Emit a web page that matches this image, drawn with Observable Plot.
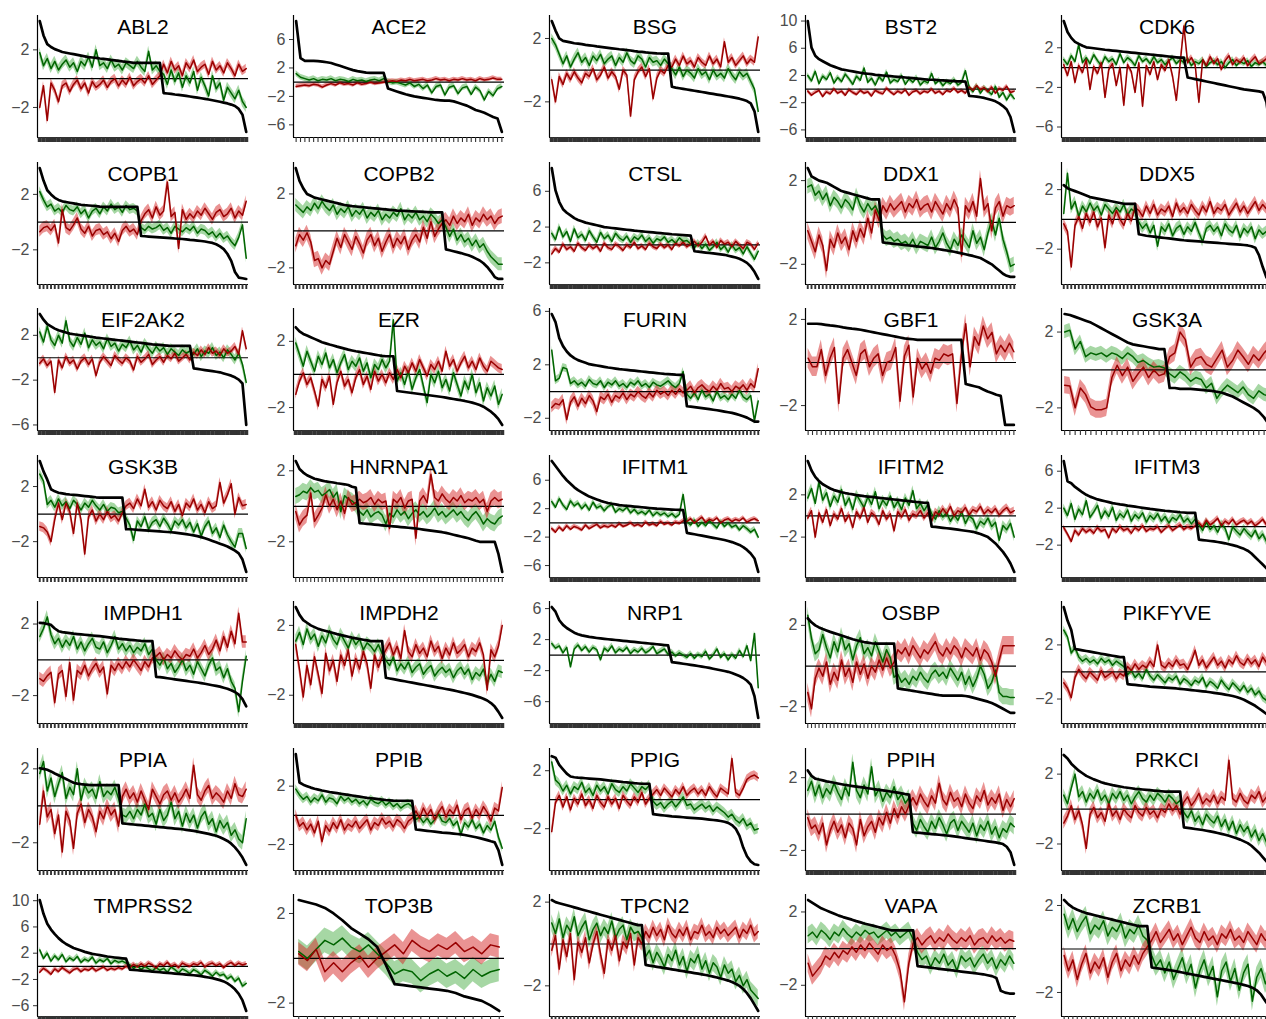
<!DOCTYPE html>
<html><head><meta charset="utf-8">
<script src="https://cdn.jsdelivr.net/npm/d3@7"></script>
<script src="https://cdn.jsdelivr.net/npm/@observablehq/plot@0.6"></script>
<style>
html,body{margin:0;padding:0;background:#fff;overflow:hidden;width:1266px;height:1019px;}
#grid{position:relative;width:1266px;height:1019px;overflow:hidden;}
.cell{position:absolute;width:256px;height:146px;}
.cell [aria-label="y-axis tick label"], .cell [aria-label="y-axis tick label"] text{font-size:16px !important;}
</style></head><body><div id="grid"></div>
<script>
const genes = ["ABL2","ACE2","BSG","BST2","CDK6","COPB1","COPB2","CTSL","DDX1","DDX5",
"EIF2AK2","EZR","FURIN","GBF1","GSK3A","GSK3B","HNRNPA1","IFITM1","IFITM2","IFITM3",
"IMPDH1","IMPDH2","NRP1","OSBP","PIKFYVE","PPIA","PPIB","PPIG","PPIH","PRKCI",
"TMPRSS2","TOP3B","TPCN2","VAPA","ZCRB1"];

const blackVals = [
[4.0,3.0,2.4,2.2,2.05,1.95,1.85,1.8,1.75,1.7,1.65,1.6,1.55,1.5,1.47,1.44,1.4,1.37,1.34,1.3,1.27,1.24,1.2,1.17,1.14,1.1,1.1,1.1,1.1,1.1,1.1,1.1,1.1,-1.0,-1.03,-1.06,-1.1,-1.13,-1.16,-1.2,-1.24,-1.28,-1.32,-1.36,-1.4,-1.45,-1.5,-1.55,-1.6,-1.66,-1.72,-1.8,-1.9,-2.1,-2.5,-3.7],
[8.6,3.4,3.0,3.0,3.0,2.95,2.9,2.8,2.7,2.5,2.3,2.1,1.9,1.7,1.55,1.45,1.35,1.3,1.3,1.3,1.3,-0.9,-1.1,-1.3,-1.5,-1.7,-1.85,-2.0,-2.1,-2.2,-2.3,-2.4,-2.5,-2.55,-2.6,-2.6,-2.7,-2.9,-3.1,-3.3,-3.6,-3.9,-4.1,-4.3,-4.6,-4.9,-5.1,-7.0],
[3.1,2.5,2.0,1.85,1.8,1.75,1.7,1.67,1.64,1.6,1.57,1.54,1.5,1.47,1.44,1.41,1.38,1.35,1.32,1.3,1.27,1.24,1.2,1.17,1.15,1.12,1.1,1.08,1.06,1.05,1.05,1.05,-1.05,-1.1,-1.14,-1.18,-1.22,-1.26,-1.3,-1.34,-1.38,-1.42,-1.46,-1.5,-1.54,-1.58,-1.62,-1.66,-1.7,-1.75,-1.8,-1.87,-1.95,-2.1,-2.6,-3.9],
[10.0,6.1,4.9,4.4,4.1,3.8,3.5,3.3,3.1,2.9,2.8,2.7,2.6,2.5,2.4,2.3,2.25,2.2,2.1,2.05,2.0,1.95,1.9,1.85,1.8,1.75,1.7,1.65,1.6,1.55,1.5,1.45,1.4,1.37,1.34,1.3,1.27,1.24,1.2,1.17,1.14,1.12,1.1,-1.0,-1.05,-1.1,-1.2,-1.3,-1.45,-1.6,-1.8,-2.1,-2.5,-3.0,-4.1,-6.3],
[4.7,3.6,3.0,2.6,2.4,2.2,2.05,2.0,1.95,1.9,1.85,1.8,1.76,1.72,1.68,1.64,1.6,1.56,1.52,1.48,1.44,1.4,1.36,1.32,1.28,1.24,1.2,1.16,1.12,1.08,1.04,1.0,1.0,-1.0,-1.08,-1.16,-1.24,-1.32,-1.4,-1.48,-1.56,-1.64,-1.72,-1.8,-1.88,-1.96,-2.04,-2.12,-2.2,-2.25,-2.3,-2.35,-2.4,-2.5,-3.5,-6.5],
[3.9,3.0,2.3,2.0,1.75,1.6,1.5,1.45,1.4,1.35,1.3,1.25,1.22,1.2,1.18,1.15,1.12,1.1,1.1,1.1,1.1,1.1,1.1,1.1,1.1,1.1,1.1,-1.0,-1.02,-1.04,-1.06,-1.08,-1.1,-1.12,-1.14,-1.16,-1.18,-1.2,-1.22,-1.25,-1.28,-1.3,-1.33,-1.36,-1.4,-1.45,-1.5,-1.6,-1.75,-1.95,-2.3,-2.8,-3.6,-4.0,-4.05,-4.1],
[3.4,2.7,2.3,2.0,1.9,1.8,1.75,1.7,1.65,1.6,1.55,1.5,1.45,1.4,1.37,1.34,1.32,1.3,1.28,1.26,1.24,1.22,1.2,1.18,1.16,1.14,1.12,1.1,1.09,1.08,1.07,1.06,1.05,1.04,1.03,1.02,1.0,1.0,1.0,1.0,-1.0,-1.05,-1.1,-1.15,-1.2,-1.26,-1.32,-1.4,-1.5,-1.6,-1.75,-1.95,-2.2,-2.5,-2.6,-2.6],
[8.6,6.1,4.8,4.0,3.6,3.3,3.0,2.8,2.65,2.5,2.4,2.3,2.2,2.1,2.0,1.95,1.9,1.85,1.8,1.75,1.7,1.65,1.6,1.56,1.52,1.48,1.44,1.4,1.36,1.32,1.28,1.24,1.2,1.17,1.14,1.11,1.08,1.05,-0.7,-0.75,-0.8,-0.85,-0.9,-0.95,-1.0,-1.05,-1.1,-1.2,-1.3,-1.4,-1.55,-1.75,-2.0,-2.4,-3.0,-3.8],
[2.6,2.2,2.1,2.0,1.95,1.9,1.8,1.7,1.6,1.5,1.45,1.4,1.35,1.3,1.25,1.2,1.15,1.1,1.1,1.1,-0.95,-0.98,-1.0,-1.02,-1.04,-1.06,-1.08,-1.1,-1.12,-1.14,-1.16,-1.18,-1.2,-1.22,-1.25,-1.28,-1.31,-1.34,-1.37,-1.4,-1.44,-1.48,-1.52,-1.56,-1.6,-1.65,-1.7,-1.8,-1.9,-2.0,-2.15,-2.3,-2.45,-2.55,-2.6,-2.6],
[2.3,2.1,2.0,1.9,1.8,1.7,1.6,1.5,1.45,1.4,1.35,1.3,1.25,1.2,1.15,1.1,1.05,1.05,1.05,1.05,-1.0,-1.05,-1.1,-1.13,-1.16,-1.19,-1.22,-1.25,-1.28,-1.31,-1.34,-1.37,-1.4,-1.42,-1.44,-1.46,-1.48,-1.5,-1.52,-1.54,-1.56,-1.58,-1.6,-1.62,-1.64,-1.66,-1.68,-1.7,-1.72,-1.75,-1.8,-1.9,-2.4,-3.2,-3.9,-4.0],
[3.9,3.4,3.0,2.8,2.6,2.45,2.35,2.25,2.15,2.1,2.05,2.0,1.95,1.9,1.85,1.8,1.76,1.72,1.68,1.64,1.6,1.56,1.52,1.48,1.44,1.4,1.36,1.32,1.28,1.24,1.2,1.17,1.14,1.11,1.08,1.05,1.05,1.05,1.05,1.05,1.05,-0.95,-1.0,-1.05,-1.1,-1.15,-1.2,-1.25,-1.3,-1.4,-1.5,-1.6,-1.75,-1.95,-2.3,-6.0],
[2.85,2.6,2.45,2.35,2.25,2.15,2.05,1.95,1.88,1.81,1.75,1.68,1.62,1.56,1.5,1.45,1.4,1.36,1.32,1.28,1.24,1.2,1.16,1.12,1.1,1.1,1.1,-1.0,-1.03,-1.06,-1.09,-1.12,-1.15,-1.18,-1.21,-1.24,-1.27,-1.3,-1.33,-1.36,-1.4,-1.44,-1.48,-1.52,-1.56,-1.6,-1.65,-1.7,-1.77,-1.85,-1.95,-2.1,-2.25,-2.45,-2.7,-3.05],
[5.8,5.2,4.0,3.4,3.0,2.7,2.5,2.35,2.25,2.15,2.05,2.0,1.95,1.9,1.85,1.8,1.76,1.72,1.68,1.65,1.62,1.59,1.56,1.53,1.5,1.47,1.44,1.41,1.38,1.35,1.32,1.3,1.28,1.26,1.25,1.25,-1.1,-1.13,-1.16,-1.2,-1.24,-1.28,-1.32,-1.36,-1.4,-1.45,-1.5,-1.55,-1.6,-1.67,-1.75,-1.85,-1.95,-2.1,-2.25,-2.25],
[1.8,1.8,1.8,1.78,1.75,1.72,1.7,1.67,1.63,1.6,1.57,1.55,1.52,1.48,1.44,1.4,1.36,1.32,1.28,1.24,1.2,1.16,1.12,1.1,1.08,1.05,1.05,1.05,1.05,1.05,1.05,1.05,1.05,1.05,1.05,1.05,-1.0,-1.05,-1.1,-1.15,-1.25,-1.35,-1.42,-1.5,-1.55,-2.9,-2.9,-2.9],
[2.95,2.9,2.8,2.7,2.6,2.5,2.35,2.2,2.05,1.9,1.75,1.6,1.45,1.35,1.3,1.25,1.2,1.15,1.1,1.1,-0.95,-0.95,-1.0,-1.0,-1.0,-1.02,-1.05,-1.08,-1.1,-1.15,-1.2,-1.3,-1.4,-1.55,-1.7,-1.85,-2.0,-2.2,-2.5,-2.9],
[3.85,3.1,2.5,1.8,1.65,1.55,1.5,1.45,1.42,1.4,1.37,1.34,1.31,1.28,1.25,1.22,1.2,1.2,1.2,1.2,1.2,1.2,1.2,-1.1,-1.1,-1.12,-1.14,-1.16,-1.18,-1.2,-1.22,-1.24,-1.26,-1.28,-1.3,-1.32,-1.35,-1.38,-1.42,-1.46,-1.5,-1.55,-1.6,-1.67,-1.75,-1.85,-1.95,-2.05,-2.15,-2.25,-2.35,-2.5,-2.65,-2.85,-3.3,-4.2],
[2.55,2.1,1.9,1.75,1.65,1.55,1.5,1.45,1.4,1.37,1.34,1.3,1.27,1.24,1.2,1.1,1.05,-0.95,-0.97,-0.99,-1.01,-1.03,-1.05,-1.07,-1.09,-1.11,-1.13,-1.15,-1.17,-1.19,-1.21,-1.23,-1.25,-1.28,-1.31,-1.34,-1.37,-1.4,-1.43,-1.46,-1.5,-1.55,-1.6,-1.65,-1.7,-1.75,-1.8,-1.87,-1.94,-2.0,-2.0,-2.0,-2.0,-2.0,-2.7,-3.7],
[8.7,8.0,7.3,6.6,6.0,5.5,5.0,4.6,4.3,4.0,3.7,3.5,3.3,3.1,2.95,2.8,2.7,2.6,2.5,2.45,2.4,2.35,2.3,2.25,2.2,2.15,2.1,2.05,2.0,1.97,1.94,1.91,1.88,1.85,1.82,1.8,-1.4,-1.5,-1.6,-1.7,-1.8,-1.9,-2.0,-2.1,-2.2,-2.3,-2.4,-2.55,-2.7,-2.9,-3.1,-3.4,-3.8,-4.3,-5.0,-6.9],
[5.2,4.3,3.7,3.3,3.0,2.8,2.6,2.45,2.35,2.25,2.17,2.1,2.04,1.98,1.93,1.88,1.84,1.8,1.76,1.72,1.68,1.64,1.6,1.56,1.52,1.48,1.44,1.4,1.36,1.32,1.28,1.25,1.25,-1.0,-1.04,-1.08,-1.12,-1.16,-1.2,-1.25,-1.3,-1.35,-1.4,-1.45,-1.5,-1.6,-1.7,-1.85,-2.0,-2.3,-2.6,-3.0,-3.4,-3.9,-4.5,-5.3],
[7.1,4.9,4.7,4.3,4.0,3.7,3.45,3.25,3.1,2.95,2.85,2.75,2.65,2.55,2.48,2.41,2.35,2.28,2.22,2.16,2.1,2.04,1.98,1.92,1.87,1.82,1.77,1.72,1.68,1.64,1.6,1.56,1.53,1.5,1.5,1.5,-1.4,-1.45,-1.5,-1.55,-1.6,-1.66,-1.72,-1.8,-1.9,-2.0,-2.1,-2.25,-2.4,-2.6,-2.9,-3.3,-3.7,-4.1,-4.5,-4.9],
[2.07,2.05,2.0,1.95,1.75,1.6,1.55,1.52,1.49,1.46,1.44,1.42,1.4,1.38,1.36,1.34,1.32,1.3,1.27,1.24,1.21,1.18,1.16,1.14,1.12,1.1,1.08,1.06,1.05,1.05,1.05,-0.95,-0.97,-1.0,-1.03,-1.06,-1.09,-1.12,-1.15,-1.18,-1.21,-1.24,-1.27,-1.3,-1.34,-1.38,-1.42,-1.46,-1.5,-1.56,-1.62,-1.7,-1.8,-1.95,-2.2,-2.6],
[3.05,2.6,2.3,2.15,2.0,1.9,1.8,1.74,1.68,1.62,1.56,1.5,1.45,1.4,1.35,1.3,1.26,1.22,1.18,1.14,1.1,1.1,1.1,1.1,-1.0,-1.04,-1.08,-1.12,-1.16,-1.2,-1.24,-1.28,-1.32,-1.36,-1.4,-1.44,-1.48,-1.52,-1.56,-1.6,-1.64,-1.68,-1.72,-1.77,-1.82,-1.87,-1.92,-1.98,-2.05,-2.12,-2.2,-2.3,-2.45,-2.65,-2.95,-3.3],
[6.2,5.6,4.5,3.9,3.5,3.2,2.9,2.7,2.55,2.45,2.35,2.28,2.21,2.15,2.1,2.05,2.0,1.95,1.9,1.85,1.8,1.75,1.7,1.65,1.6,1.55,1.5,1.45,1.4,1.35,1.3,1.25,-0.9,-0.97,-1.04,-1.11,-1.18,-1.25,-1.32,-1.4,-1.48,-1.56,-1.65,-1.75,-1.85,-1.95,-2.05,-2.15,-2.3,-2.5,-2.7,-2.95,-3.3,-3.8,-5.3,-8.1],
[2.35,2.15,2.0,1.9,1.82,1.75,1.68,1.62,1.56,1.5,1.44,1.38,1.32,1.27,1.22,1.18,1.15,1.12,1.1,1.1,1.1,1.1,1.1,1.1,-1.1,-1.13,-1.16,-1.19,-1.22,-1.25,-1.28,-1.31,-1.34,-1.37,-1.4,-1.43,-1.45,-1.45,-1.45,-1.45,-1.45,-1.45,-1.47,-1.5,-1.55,-1.6,-1.65,-1.7,-1.75,-1.82,-1.9,-2.0,-2.1,-2.2,-2.3,-2.3],
[4.8,3.8,3.1,1.7,1.65,1.6,1.55,1.5,1.45,1.4,1.35,1.3,1.25,1.2,1.15,1.1,1.1,-0.9,-0.93,-0.96,-0.99,-1.02,-1.05,-1.08,-1.1,-1.12,-1.14,-1.16,-1.18,-1.2,-1.22,-1.25,-1.28,-1.31,-1.34,-1.37,-1.4,-1.43,-1.46,-1.5,-1.54,-1.58,-1.62,-1.67,-1.72,-1.78,-1.85,-1.95,-2.05,-2.2,-2.35,-2.5,-2.7,-2.9,-3.1,-3.4],
[2.03,2.0,1.95,1.86,1.75,1.65,1.55,1.45,1.35,1.25,1.2,1.17,1.15,1.13,1.12,1.12,1.12,1.12,1.12,1.12,1.12,1.12,-0.95,-0.97,-0.99,-1.01,-1.03,-1.05,-1.07,-1.09,-1.11,-1.13,-1.15,-1.17,-1.19,-1.21,-1.23,-1.25,-1.27,-1.3,-1.33,-1.36,-1.4,-1.44,-1.48,-1.52,-1.57,-1.62,-1.7,-1.8,-1.9,-2.05,-2.25,-2.5,-2.8,-3.2],
[4.2,2.25,2.1,2.0,1.9,1.82,1.76,1.7,1.65,1.6,1.56,1.52,1.48,1.44,1.4,1.36,1.32,1.28,1.24,1.2,1.17,1.14,1.11,1.08,1.05,1.03,1.01,1.0,1.0,1.0,1.0,1.0,-0.97,-1.0,-1.03,-1.06,-1.09,-1.12,-1.15,-1.18,-1.2,-1.22,-1.25,-1.28,-1.31,-1.35,-1.4,-1.45,-1.5,-1.56,-1.63,-1.7,-1.78,-1.85,-2.4,-3.4],
[3.0,2.9,2.4,2.1,1.8,1.6,1.55,1.52,1.5,1.48,1.46,1.44,1.42,1.4,1.37,1.34,1.31,1.28,1.25,1.22,1.2,1.17,1.14,1.12,1.1,1.1,1.1,-1.0,-1.03,-1.06,-1.09,-1.12,-1.15,-1.17,-1.19,-1.21,-1.23,-1.25,-1.27,-1.29,-1.31,-1.34,-1.37,-1.4,-1.43,-1.47,-1.52,-1.6,-1.75,-2.0,-2.5,-3.3,-3.9,-4.25,-4.45,-4.5],
[2.4,2.1,1.95,1.9,1.85,1.8,1.76,1.72,1.68,1.64,1.6,1.57,1.54,1.51,1.48,1.45,1.42,1.39,1.36,1.33,1.3,1.27,1.24,1.21,1.18,1.14,1.1,1.07,-1.0,-1.02,-1.04,-1.06,-1.08,-1.1,-1.12,-1.14,-1.16,-1.18,-1.2,-1.23,-1.26,-1.29,-1.32,-1.35,-1.38,-1.41,-1.44,-1.47,-1.5,-1.53,-1.56,-1.6,-1.65,-1.8,-2.1,-2.8],
[3.1,2.9,2.6,2.4,2.2,2.05,1.9,1.8,1.7,1.62,1.54,1.47,1.42,1.37,1.33,1.29,1.25,1.22,1.19,1.16,1.14,1.12,1.1,1.08,1.06,1.04,1.02,1.0,1.0,1.0,1.0,1.0,-1.05,-1.08,-1.11,-1.14,-1.17,-1.2,-1.24,-1.28,-1.32,-1.37,-1.42,-1.47,-1.53,-1.6,-1.67,-1.75,-1.85,-1.95,-2.1,-2.3,-2.5,-2.75,-3.0,-3.2],
[10.1,8.0,6.5,5.6,4.9,4.3,3.8,3.4,3.1,2.8,2.6,2.4,2.2,2.05,1.9,1.8,1.7,1.6,1.5,1.42,1.35,1.28,1.22,1.16,-0.5,-0.55,-0.6,-0.65,-0.7,-0.75,-0.8,-0.85,-0.9,-0.95,-1.0,-1.05,-1.1,-1.15,-1.2,-1.25,-1.3,-1.36,-1.42,-1.5,-1.6,-1.7,-1.8,-1.95,-2.1,-2.3,-2.6,-3.0,-3.5,-4.2,-5.2,-6.8],
[2.6,2.5,2.4,2.25,2.0,1.7,1.35,1.1,0.85,0.5,-0.3,-1.15,-1.2,-1.25,-1.3,-1.35,-1.4,-1.45,-1.55,-1.7,-1.8,-1.9,-2.1,-2.35],
[2.1,2.0,1.95,1.9,1.85,1.8,1.75,1.7,1.65,1.6,1.55,1.5,1.45,1.4,1.35,1.3,1.25,1.2,1.15,1.1,1.05,1.0,0.95,0.9,0.9,-1.0,-1.03,-1.06,-1.09,-1.12,-1.15,-1.18,-1.21,-1.24,-1.27,-1.3,-1.33,-1.36,-1.39,-1.42,-1.45,-1.48,-1.52,-1.56,-1.6,-1.65,-1.7,-1.75,-1.82,-1.9,-2.0,-2.15,-2.35,-2.6,-2.9,-3.2],
[2.65,2.5,2.35,2.2,2.1,2.0,1.9,1.8,1.72,1.65,1.58,1.5,1.43,1.36,1.3,1.24,1.18,1.12,1.06,1.0,1.0,1.0,1.0,1.0,1.0,-0.95,-0.98,-1.01,-1.04,-1.07,-1.1,-1.13,-1.16,-1.19,-1.22,-1.25,-1.28,-1.31,-1.34,-1.37,-1.4,-1.45,-1.5,-1.6,-2.3,-2.4,-2.45,-2.45],
[2.25,2.05,1.9,1.8,1.72,1.65,1.6,1.55,1.5,1.45,1.4,1.35,1.3,1.25,1.2,1.15,1.1,1.05,1.05,1.05,-0.85,-0.88,-0.91,-0.94,-0.97,-1.0,-1.04,-1.08,-1.12,-1.16,-1.2,-1.24,-1.28,-1.32,-1.36,-1.4,-1.44,-1.48,-1.52,-1.56,-1.6,-1.65,-1.7,-1.78,-1.9,-2.1,-2.4,-2.7]
];

const greenVals = [
[1.8,0.9,1.4,0.7,1.2,0.6,1.0,1.3,0.8,1.1,0.5,1.2,0.9,1.5,0.8,2.0,0.9,1.1,0.7,1.3,0.8,1.0,0.6,1.1,0.9,0.7,1.2,0.8,0.5,1.9,0.6,0.9,0.5,0.3,-0.4,0.6,-0.2,0.4,-0.6,0.2,-0.3,0.5,-0.8,0.1,-0.5,-1.2,0.2,-0.7,-0.3,-1.5,-0.6,-1.0,-1.4,-0.8,-1.6,-2.0],
[1.2,0.7,0.5,0.3,0.5,0.2,0.4,0.3,0.5,0.2,0.4,0.3,0.1,0.4,0.2,0.3,0.1,0.3,0.4,0.2,0.5,0.1,-0.1,0.0,-0.2,-0.4,-0.1,-0.6,-0.3,-0.9,-0.4,-1.5,-0.6,-0.4,-1.8,-0.7,-0.5,-1.6,-0.8,-0.6,-1.7,-0.7,-1.2,-2.5,-1.3,-1.9,-0.9,-0.6],
[2.0,1.6,1.0,0.4,0.9,0.2,0.7,1.1,0.5,0.8,0.3,0.9,0.6,1.0,0.4,0.7,0.9,0.3,0.8,0.5,1.1,0.6,0.4,0.9,0.7,0.2,0.8,0.5,0.6,0.3,0.7,0.4,0.1,-0.3,0.2,-0.4,0.0,-0.2,-0.5,0.1,-0.3,-0.1,-0.6,0.0,-0.4,-0.2,-0.5,0.1,-0.3,-0.6,-0.1,-0.4,-0.2,-0.7,-1.2,-2.6],
[2.0,1.2,2.6,0.8,1.9,1.4,2.4,0.9,1.7,1.1,2.2,1.5,0.7,1.9,1.3,3.1,1.0,1.6,0.6,1.8,1.2,2.5,0.9,1.4,1.1,2.0,0.7,1.5,1.0,1.7,0.6,1.2,0.9,2.3,0.8,1.3,0.5,1.1,0.8,1.4,0.6,1.0,2.7,0.3,-0.4,0.5,-0.6,0.2,-0.3,-0.8,0.4,-1.2,-0.5,-1.6,-0.7,-1.4],
[0.8,0.3,1.2,0.6,2.3,0.5,1.0,0.4,1.3,0.7,0.2,1.1,0.6,0.9,0.3,1.4,0.5,1.0,0.7,0.2,1.2,0.6,0.9,0.4,1.1,0.5,0.8,0.3,0.7,1.0,0.4,0.8,0.5,0.9,0.2,0.6,0.4,0.8,0.1,0.5,0.7,0.3,0.6,0.0,0.5,0.8,0.2,0.6,0.4,0.7,0.1,0.5,0.3,0.6,0.2,0.4],
[2.2,1.6,1.1,1.3,0.8,1.0,0.7,1.2,0.9,0.8,1.1,0.6,0.9,0.3,0.8,1.0,0.6,1.1,0.8,1.3,0.9,1.1,0.7,1.2,0.9,1.0,0.8,-0.4,-0.6,-0.3,-0.5,-0.4,-0.2,-0.6,-0.4,-0.8,-0.3,-0.5,-0.7,-0.4,-0.6,-0.3,-0.8,-0.5,-0.6,-0.9,-0.7,-1.1,-0.8,-1.2,-1.0,-1.4,-1.7,-1.1,-0.2,-2.6],
[1.4,1.2,1.0,1.3,1.1,1.5,1.2,1.6,1.3,1.1,1.4,0.9,1.2,1.0,1.3,0.8,1.1,0.9,1.2,0.7,1.0,0.8,1.1,0.6,0.9,0.7,1.0,0.8,1.2,0.6,0.9,0.7,1.0,0.6,0.8,0.5,0.9,0.7,0.4,0.6,0.2,-0.3,0.1,-0.5,-0.2,-0.6,-0.4,-0.8,-0.5,-0.9,-0.7,-1.1,-1.4,-1.6,-1.8,-1.8],
[1.3,0.6,2.0,0.9,1.5,0.4,1.8,0.8,1.2,0.5,1.6,0.9,0.3,1.4,0.7,1.1,0.4,1.3,0.8,0.5,1.0,0.3,0.9,0.6,1.1,0.4,0.8,0.2,0.7,0.5,0.9,0.3,0.6,0.2,0.8,0.4,0.5,0.1,-0.3,0.2,-0.4,0.1,-0.6,-0.2,0.3,-0.5,-0.1,-0.8,0.0,-0.6,-0.3,-1.0,-0.2,-0.9,-1.6,-0.7],
[1.7,1.8,1.3,1.5,1.1,1.4,0.8,1.2,1.0,0.7,1.1,0.9,0.6,1.3,0.8,0.5,0.9,0.6,0.8,0.4,-0.6,-0.8,-0.7,-0.9,-0.8,-1.0,-0.9,-1.1,-0.8,-1.2,-0.9,-1.0,-1.1,-0.7,-1.2,-0.9,-0.5,-1.0,-1.3,-0.8,-1.1,-0.6,-0.9,-1.2,-0.4,-1.0,-0.7,-1.3,-0.5,0.1,-0.6,0.2,-0.8,-1.4,-2.1,-2.0],
[0.4,3.1,0.7,1.2,0.2,0.9,0.5,1.1,0.6,0.9,0.3,1.0,0.7,0.4,0.8,0.5,1.0,0.3,0.7,0.5,-0.2,-0.6,-0.3,-0.9,-0.4,-1.8,-0.5,-0.8,-0.3,-1.1,-0.6,-0.4,-1.0,-0.5,-0.8,-0.2,-0.9,-1.5,-0.6,-0.4,-0.8,-0.5,-1.1,-0.3,-0.7,-0.9,-0.4,-1.2,-0.6,-0.9,-0.5,-1.3,-0.7,-1.0,-0.8,-0.9],
[2.3,1.4,2.8,1.6,1.1,2.0,1.3,3.3,1.5,1.0,1.8,1.2,2.2,0.9,1.6,1.1,1.4,0.8,1.7,1.0,1.3,0.6,1.2,0.9,1.5,0.7,1.1,0.5,1.3,0.8,0.4,1.0,0.6,0.9,0.3,0.8,0.5,0.2,0.7,0.4,0.6,0.3,0.8,0.1,0.6,0.4,0.9,0.2,0.5,0.0,0.7,0.3,-0.2,0.4,-0.6,-2.2],
[1.9,1.2,0.5,1.4,0.8,0.2,1.1,0.6,1.3,0.4,0.9,0.1,0.7,1.2,0.3,0.8,0.5,1.0,0.2,0.7,-0.2,0.6,0.3,0.9,0.4,0.8,3.3,-0.4,0.1,-0.6,0.2,-0.9,-0.2,0.3,-0.7,-1.7,0.0,-0.5,0.2,-0.8,-0.3,-1.0,0.1,-0.6,-1.3,-0.4,-0.9,0.0,-1.1,-0.5,-1.6,-0.8,-1.3,-0.7,-1.8,-1.2],
[3.1,0.8,1.0,1.8,1.7,0.6,0.8,0.5,0.7,0.4,0.9,0.6,0.5,0.8,0.3,0.7,0.5,0.8,0.4,0.6,0.3,0.7,0.5,0.8,0.4,0.6,0.3,0.7,0.5,0.4,0.6,0.8,0.5,0.3,0.6,1.5,-0.2,-0.5,-0.1,-0.6,0.1,-0.4,-0.2,-0.7,0.0,-0.5,-0.3,-0.6,-0.2,-0.5,0.1,-0.4,-0.6,-0.3,-2.2,-0.7],
null,
[2.0,2.1,1.1,1.5,0.7,0.9,0.8,0.9,0.7,0.9,0.8,0.6,0.9,0.7,0.4,0.5,0.3,0.15,0.2,0.1,-0.2,-0.4,-0.1,-0.3,-0.6,-0.4,-0.5,-0.95,-0.7,-1.5,-1.1,-0.8,-1.0,-1.2,-0.9,-1.3,-1.5,-1.1,-1.3,-1.4],
[2.9,2.4,0.7,1.0,0.5,1.1,0.6,0.9,0.4,1.0,0.7,0.3,0.8,0.5,1.0,0.6,0.3,0.7,0.2,0.5,0.4,0.1,0.2,-0.3,-0.8,-1.9,-0.5,-0.9,-0.2,-1.1,-0.6,-0.4,-0.9,-0.3,-0.7,-1.2,-0.5,-0.8,-0.4,-1.0,-0.6,-1.3,-0.7,-1.6,-0.9,-0.5,-1.4,-1.0,-1.7,-0.8,-1.5,-2.0,-2.4,-1.4,-1.4,-2.5],
[0.55,0.65,0.85,0.75,1.05,0.8,0.9,0.6,0.75,0.95,0.5,0.8,-0.3,0.6,0.4,0.3,0.1,-0.3,-0.5,-0.2,-0.6,-0.4,-0.3,-0.5,-1.0,-0.4,-0.6,-0.2,-0.5,-0.3,-0.7,-0.4,-0.2,-0.5,-0.3,-0.6,-0.4,-0.1,-0.5,-0.3,-0.6,-0.4,-0.2,-0.5,-0.3,-0.6,-0.8,-0.5,-0.3,-0.6,-1.0,-0.7,-0.9,-1.0,-0.7,-0.55],
[3.0,2.2,3.4,2.5,1.9,3.1,2.4,2.8,2.0,2.6,1.8,2.9,2.1,2.4,1.7,2.3,2.6,1.5,2.0,1.7,2.2,1.4,1.9,1.3,1.6,1.2,1.8,1.0,1.5,1.1,1.4,0.9,1.3,0.8,1.2,4.0,0.2,-0.3,0.4,-0.5,0.1,-0.4,0.3,-0.2,-0.7,0.2,-0.5,0.0,-0.6,-0.3,-1.0,-0.4,-0.8,-1.3,-0.9,-2.0],
[1.7,2.6,1.2,3.2,1.5,2.2,0.9,1.9,1.3,2.5,1.0,1.7,0.6,2.0,1.4,0.8,1.8,1.1,2.3,0.7,1.5,1.0,1.9,0.8,1.4,0.6,1.7,1.0,2.4,0.7,1.2,0.5,1.1,0.2,-0.3,0.5,-0.1,0.3,-0.5,0.1,-0.4,0.4,-0.7,0.0,-0.3,-1.2,-0.5,-0.8,-0.2,-1.0,-0.6,-2.3,-0.9,-1.3,-0.7,-2.0],
[2.0,1.2,2.5,0.8,1.9,1.3,2.8,1.0,1.6,2.3,0.9,1.7,1.1,2.1,0.7,1.4,1.0,1.8,0.6,1.3,0.9,1.5,0.5,1.2,0.8,1.4,0.6,1.1,0.4,1.0,0.7,1.3,0.5,0.9,0.3,0.8,0.2,-0.4,0.5,-0.3,0.1,-0.6,0.3,-0.2,-1.4,0.0,-0.5,-0.9,-0.2,-0.7,-1.1,-0.4,-1.3,-0.8,-1.6,-1.2],
[1.3,1.75,2.4,1.4,0.9,1.2,0.7,1.1,0.8,1.3,0.6,1.0,0.5,0.9,1.2,0.7,0.6,1.0,0.4,0.8,1.3,0.6,0.9,0.5,0.8,0.4,0.7,0.5,0.9,0.3,0.6,0.0,-0.3,0.1,-0.5,-0.2,-0.7,-0.4,0.0,-0.6,-0.3,-0.8,-0.1,-0.5,-0.9,-0.3,0.1,-0.6,-0.4,-1.0,-0.5,-1.2,-1.6,-2.9,-1.2,0.2],
[1.1,1.6,0.9,1.8,1.2,1.5,0.8,1.4,1.0,1.7,1.2,0.9,1.5,1.1,0.7,1.3,0.9,1.2,0.6,1.0,0.8,0.5,0.9,0.4,0.0,-0.3,0.2,-0.6,-0.2,-0.5,-0.1,-0.7,-0.4,-0.2,-0.8,-0.5,-0.3,-0.9,-0.6,-0.4,-0.7,-0.5,-1.0,-0.6,-0.4,-0.8,-0.5,-1.1,-0.7,-0.9,-0.5,-1.3,-0.8,-1.2,-0.6,-0.7],
[1.5,0.9,1.2,0.3,1.0,-1.5,0.8,1.3,0.6,1.1,0.4,1.0,0.7,-0.6,0.9,0.5,1.2,0.3,0.8,0.5,1.0,0.2,0.7,0.4,0.9,0.3,0.6,1.1,0.2,0.5,0.8,0.1,0.4,-0.1,0.3,0.0,-0.3,0.2,-0.4,0.1,-0.2,0.5,-0.5,0.0,0.8,-0.3,0.2,-0.6,0.1,-0.4,0.6,-0.2,1.2,-0.7,2.8,-4.2],
[2.5,1.35,0.6,0.8,1.55,0.9,0.4,1.2,0.7,1.5,0.8,1.1,0.3,1.0,1.4,0.6,0.9,0.5,1.2,0.7,0.2,0.8,0.4,-0.55,-0.4,-0.8,-0.6,-0.9,-0.5,-0.7,-0.3,-0.6,-0.8,-0.4,-0.2,-0.5,-0.3,-0.6,-0.1,-0.4,-0.7,-0.3,-0.9,-0.5,-1.0,-0.6,0.0,-0.4,-1.1,-0.8,-0.2,-1.3,-1.5,-1.5,-1.55,-1.55],
[3.1,2.6,1.4,1.8,1.1,0.8,1.0,0.7,0.9,0.6,1.0,0.7,0.9,0.5,0.8,0.6,0.4,-0.2,0.1,-0.4,-0.1,-0.5,0.2,-0.3,-0.6,-0.2,-0.5,-0.8,-0.4,-0.6,-0.3,-0.9,-0.5,-0.7,-1.0,-0.6,-0.8,-0.4,-1.1,-0.7,-0.9,-1.2,-0.6,-1.0,-1.3,-0.8,-1.1,-1.4,-1.0,-1.5,-1.2,-1.7,-1.4,-1.9,-2.1,-2.3],
[1.75,2.4,0.8,1.5,0.5,1.2,1.8,0.4,1.0,0.6,2.0,0.3,1.1,0.7,0.9,0.4,1.3,0.5,0.8,0.6,1.0,0.4,-0.5,-0.6,-0.3,-0.7,-0.2,-0.5,0.1,-0.6,-0.4,-1.0,-0.2,-0.8,-0.5,0.2,-0.7,-0.3,-1.1,-0.4,-0.9,-0.5,-1.2,-0.6,-0.3,-1.0,-0.7,-1.4,-0.8,-1.2,-0.9,-1.6,-1.3,-1.8,-2.0,-0.7],
[1.8,1.4,1.1,1.3,0.9,1.2,1.0,1.4,0.9,1.2,1.1,0.8,1.3,1.0,1.2,0.9,1.1,0.8,1.0,0.7,1.1,0.9,0.8,1.0,0.7,0.9,0.6,0.8,0.5,0.7,0.8,0.6,-0.3,-0.1,-0.5,-0.2,-0.6,-0.3,0.1,-0.4,-0.5,-0.2,-0.7,-0.4,-1.3,-0.5,-0.8,-0.3,-0.9,-0.6,-1.2,-0.7,-1.0,-0.4,-1.5,-2.25],
[2.6,1.35,1.1,0.6,1.0,0.4,0.9,0.7,1.2,0.5,0.8,0.3,1.0,0.6,0.9,0.4,1.1,0.7,0.5,0.9,0.6,1.1,0.8,0.5,0.9,0.7,1.0,-0.1,-0.4,-0.2,-0.6,-0.3,-0.1,-0.5,-0.2,0.2,-0.4,-0.3,-0.7,-0.5,-0.3,-0.6,-0.4,-0.8,-0.5,-0.7,-0.9,-1.2,-1.0,-1.4,-1.6,-1.3,-1.8,-1.6,-2.1,-2.0],
[1.3,1.8,1.0,1.6,0.9,1.4,1.1,1.7,1.2,0.8,1.5,1.0,2.85,1.3,0.9,1.6,1.1,2.6,1.0,1.4,0.7,1.2,0.9,1.5,0.8,1.1,0.6,0.9,-0.5,-0.9,-0.3,-0.7,-1.0,-0.4,-0.8,-0.2,-0.6,-1.1,-0.5,-0.3,-0.9,-0.4,-0.7,-1.0,-0.5,-1.2,-0.6,-0.9,-0.4,-1.1,-0.7,-1.3,-0.8,-1.0,-0.5,-0.7],
[0.8,0.3,1.2,2.0,0.7,1.0,0.4,0.9,0.6,1.1,0.5,0.8,0.3,0.9,0.6,1.0,0.5,0.8,0.3,0.7,1.0,0.6,0.4,0.8,0.5,0.9,0.7,0.4,0.8,0.6,0.3,0.5,-0.2,-0.5,-0.1,-0.7,-0.4,-0.9,-0.3,-0.6,-0.8,-0.4,-1.0,-0.6,-1.2,-0.7,-1.4,-0.9,-1.3,-1.0,-1.6,-1.2,-1.8,-1.4,-1.9,-1.6],
[2.5,1.2,2.0,0.8,1.6,1.0,1.8,0.7,1.3,0.9,1.5,0.6,1.1,0.8,1.4,0.5,1.0,0.7,1.2,0.4,0.9,0.6,0.8,0.5,0.2,-0.3,0.1,-0.5,0.0,-0.4,-0.7,-0.2,-0.6,-0.3,-0.9,-0.1,-0.5,-1.0,-0.4,-0.7,-1.1,-0.5,-0.8,-1.3,-0.6,-1.0,-1.5,-0.9,-1.4,-1.2,-1.9,-1.5,-2.3,-1.8,-3.0,-2.6],
[0.3,0.0,0.4,0.8,0.6,0.9,0.5,0.3,0.6,0.2,-0.2,-0.7,-0.5,-0.6,-1.0,-0.7,-0.5,-0.8,-0.6,-0.9,-0.5,-0.8,-0.6,-0.5],
[1.0,0.5,1.2,0.3,0.9,0.6,1.3,0.4,0.8,1.1,0.2,0.7,1.0,0.4,0.8,0.5,1.1,0.3,0.7,0.9,0.2,0.8,0.5,0.6,0.3,-0.6,-0.3,-0.9,-0.4,-0.7,-1.1,-0.5,-0.8,-0.3,-1.0,-0.6,-1.3,-0.7,-0.9,-0.5,-1.2,-0.8,-1.4,-0.9,-1.1,-1.6,-1.0,-1.4,-1.2,-1.8,-1.5,-2.0,-1.7,-2.2,-2.4,-2.6],
[0.7,0.9,0.6,1.0,0.8,0.5,0.9,0.7,1.1,0.8,0.6,0.9,0.7,1.0,0.8,0.9,0.6,0.8,1.0,0.7,0.9,0.6,0.8,1.0,0.5,-0.2,-0.6,-0.4,-1.0,-0.5,-0.8,-0.3,-0.9,-0.6,-1.2,-0.4,-0.7,-0.5,-1.0,-0.6,-0.3,-0.8,-0.5,-1.1,-0.6,-0.9,-0.4,-0.8],
[1.6,0.9,1.4,0.8,1.2,1.5,0.7,1.1,0.9,1.3,0.6,1.0,0.8,1.2,0.5,0.9,0.7,1.1,0.6,0.4,-0.3,-0.8,-0.5,-1.1,-0.6,-1.4,-0.9,-0.4,-1.2,-0.7,-1.8,-1.0,-0.5,-1.3,-0.8,-2.2,-1.0,-0.6,-1.5,-0.9,-1.9,-1.1,-0.7,-2.4,-1.3,-0.9,-1.6,-1.2]
];

const redVals = [
[-2.0,-0.5,-2.9,-0.3,-0.8,-1.6,-0.5,-0.3,-0.9,-0.4,-0.1,-0.7,-0.3,-1.0,-0.2,-0.6,-0.4,-0.1,-0.6,-0.2,0.0,-0.5,-0.1,-0.4,0.1,-0.5,-0.2,0.0,-0.3,0.2,-0.4,-0.1,0.2,1.0,0.4,1.2,0.6,0.9,0.2,1.1,0.7,1.3,0.5,0.8,1.0,0.3,1.2,0.6,0.9,0.4,1.1,0.7,0.2,1.0,0.5,0.7],
[-0.6,-0.5,-0.4,-0.5,-0.3,-0.4,-0.7,-0.4,-0.2,-0.4,-0.1,-0.3,-0.2,-0.4,-0.1,-0.3,-0.2,0.0,-0.2,-0.1,0.0,0.1,0.2,0.1,0.3,0.2,0.4,0.2,0.3,0.4,0.2,0.3,0.5,0.3,0.4,0.2,0.4,0.3,0.5,0.3,0.4,0.2,0.5,0.3,0.4,0.6,0.4,0.4],
[-0.6,-2.0,-0.4,-0.9,-0.2,-0.6,-0.1,-0.5,-0.8,-0.2,-0.4,0.1,-0.6,-0.3,0.2,-0.5,-0.1,-0.4,-1.2,0.0,-0.3,-2.9,-0.6,-0.1,0.2,-0.4,0.1,-1.8,-0.5,0.0,-0.2,0.3,0.2,0.7,0.3,0.9,0.4,0.6,0.2,0.8,0.5,0.3,0.9,0.4,0.7,0.2,1.8,0.5,0.8,0.3,0.6,0.9,0.4,0.7,0.5,2.1],
[-0.3,-0.9,-0.5,-0.2,-1.1,-0.4,-0.7,0.0,-0.6,-0.3,-0.9,-0.1,-0.5,-0.8,-0.2,-0.6,-0.4,-1.0,-0.2,-0.5,-0.7,0.1,-0.4,-0.8,-0.3,-0.6,-0.1,-0.9,-0.4,-0.2,-0.7,-0.3,-0.5,0.0,-0.6,-0.3,-0.8,-0.2,-0.4,0.1,-0.5,-0.2,-0.6,0.3,-0.2,0.5,-0.1,0.2,-0.4,0.3,-0.6,0.1,-0.2,0.4,-0.5,-0.3],
[0.3,-0.8,0.6,-1.5,0.2,-0.5,0.8,-2.2,0.1,-0.6,0.5,-3.0,-0.2,0.4,-1.8,0.0,-3.8,0.3,-0.4,-2.5,0.5,-3.9,0.2,-0.7,0.6,-1.2,0.3,-0.3,0.8,-0.9,-3.3,0.4,4.2,0.5,1.0,0.3,-3.5,0.8,0.2,1.1,0.4,0.9,-0.2,0.7,1.2,0.3,0.8,0.5,1.0,0.2,0.7,1.1,0.4,0.6,0.9,0.3],
[-0.7,-0.4,-0.3,-0.6,-0.2,-1.5,0.9,-0.4,-0.6,-0.2,0.3,-0.5,-0.8,-0.3,-1.0,-0.6,-0.5,-0.9,-0.7,-1.2,-0.8,-1.4,-0.6,-0.3,-0.7,-0.5,-0.9,0.1,0.6,0.9,0.3,1.1,0.5,0.8,2.9,0.4,0.7,-1.9,0.9,0.2,0.6,0.3,0.8,0.5,1.0,0.6,0.2,0.7,0.9,0.4,0.6,1.0,0.3,0.8,0.5,1.5],
[-0.8,-0.2,-0.5,-0.1,-0.6,-1.6,-1.5,-2.0,-1.6,-1.8,-1.1,-0.4,-0.9,-0.2,-0.6,-1.0,-0.3,-0.7,-1.2,-0.5,-0.2,-0.8,-0.4,-1.1,-0.6,-0.2,-0.9,-0.4,-0.7,-0.3,-1.0,-0.5,-0.2,-0.6,0.2,-0.4,0.5,-0.3,0.1,0.4,0.6,0.3,0.8,0.4,0.7,0.5,0.9,0.3,0.7,0.5,0.9,0.6,0.8,0.4,0.7,0.8],
[-1.0,-0.4,-0.8,0.1,-0.5,-0.2,-0.7,0.2,-0.3,-0.6,0.0,-0.4,-0.1,-0.7,0.2,-0.3,-0.5,0.1,-0.2,-0.6,0.0,-0.3,0.3,-0.4,-0.1,-0.5,0.2,-0.2,-0.4,0.1,-0.3,0.0,-0.5,0.2,-0.1,0.3,-0.2,0.1,0.4,-0.1,0.3,1.0,0.0,0.4,-0.3,0.5,0.1,0.3,-0.2,0.4,0.0,-0.4,0.3,0.1,-0.5,0.2],
[-0.4,-0.9,-1.4,-0.6,-1.1,-2.3,-0.8,-1.2,-0.5,-1.0,-0.7,-1.3,-0.4,-0.9,-0.3,-0.7,0.2,-0.5,0.6,0.1,0.8,0.5,0.9,0.6,0.8,1.0,0.5,0.9,0.7,1.1,0.6,0.8,0.9,0.5,1.0,0.7,0.4,0.9,0.6,1.1,0.7,-1.6,0.8,0.5,1.0,0.3,2.1,0.6,0.9,-0.4,0.7,1.0,0.3,0.8,0.7,0.8],
[-0.3,-0.8,-3.2,-0.4,0.2,-0.6,0.4,-0.2,0.5,-0.5,0.1,-1.9,0.3,-0.3,0.6,0.0,-0.4,0.4,-0.1,0.8,0.6,0.2,0.9,0.4,1.0,0.3,0.7,0.5,0.9,0.2,1.1,0.5,0.8,0.4,1.0,0.6,0.3,0.9,0.5,1.2,0.4,0.8,0.6,1.0,0.3,0.7,1.1,0.5,0.9,0.4,0.8,1.2,0.6,1.0,0.7,0.9],
[-0.5,-0.1,-0.7,-0.3,-3.1,-0.2,-0.9,0.1,-0.5,-0.2,-1.0,-0.3,0.0,-0.6,-0.1,-1.6,-0.4,0.1,-0.3,-0.7,0.2,-0.2,-0.5,0.0,-0.3,-1.1,0.1,-0.4,-0.1,0.3,-0.6,-0.2,0.1,-0.4,0.2,-0.1,0.4,-0.3,0.0,0.3,-0.2,0.5,0.2,0.7,0.3,0.9,0.4,0.6,0.2,0.8,0.4,0.6,1.0,0.3,2.4,0.8],
[-1.2,-0.4,0.1,-0.6,-0.2,-1.0,-1.9,-0.3,-0.8,-0.1,-1.8,-0.5,0.2,-0.7,-0.3,-1.1,-0.2,0.3,-0.6,-0.1,-0.9,0.2,-0.4,0.0,-0.5,0.1,-0.3,0.3,-0.2,0.5,0.1,0.7,0.2,0.9,0.4,-0.1,0.6,0.3,0.8,0.2,1.4,0.5,0.9,0.2,0.7,1.1,0.4,0.8,0.3,1.0,0.5,0.2,0.8,0.6,0.4,0.3],
[-1.2,-0.9,-1.0,-0.6,-2.1,-0.8,-0.4,-1.1,-0.5,-0.9,-0.3,-0.7,-1.5,-0.4,-0.6,-0.2,-0.8,-0.3,-0.5,-0.1,-0.6,-0.2,-0.4,0.0,-0.3,-0.5,-0.1,-0.4,0.1,-0.2,0.0,-0.3,0.1,-0.2,0.2,-0.1,0.1,0.4,-0.1,0.3,0.5,0.2,0.0,0.4,0.1,0.6,0.2,0.3,0.0,0.4,0.2,0.5,0.1,0.6,0.3,1.7],
[0.2,-0.2,-0.2,0.6,-0.6,0.2,0.7,-1.9,0.2,0.6,0.0,-0.6,0.4,0.6,-0.2,0.2,0.4,-0.6,0.0,0.1,0.7,-1.8,0.3,0.8,-1.6,0.2,-0.3,0.0,-0.5,0.2,0.1,0.4,0.3,0.4,-1.9,0.3,1.8,-0.2,1.2,0.8,1.7,1.1,1.4,0.4,0.8,0.5,0.9,0.5],
[-0.8,-0.85,-2.0,-0.95,-1.3,-1.95,-2.1,-2.1,-2.0,-0.4,0.25,-0.3,0.15,-0.6,-0.2,0.15,-0.4,0.0,-0.3,-0.2,0.7,0.9,2.0,1.6,0.15,0.6,0.7,0.3,0.15,0.6,1.05,0.15,0.5,1.05,0.7,0.3,0.8,0.5,0.9,1.2],
[-0.9,-1.0,-1.3,-2.0,-0.4,0.8,-0.4,0.8,0.2,-1.4,0.8,-0.4,-2.9,-0.2,0.3,-0.5,0.0,-0.4,0.2,-0.3,-0.1,-0.5,0.1,0.6,0.8,0.4,1.1,0.6,1.8,0.5,0.9,0.3,1.0,0.6,0.4,0.9,0.2,0.7,-0.1,0.8,0.5,1.1,0.3,0.7,0.1,0.9,0.4,0.6,2.3,0.8,1.4,2.2,0.0,1.2,0.6,0.7],
[-0.3,-1.05,-0.7,-0.5,0.75,-0.85,-0.5,-0.1,0.65,0.0,0.4,-0.2,0.3,-0.4,0.5,0.1,0.2,0.4,0.2,0.3,0.5,0.1,0.4,0.2,0.3,-1.25,0.4,0.2,0.5,-0.1,0.3,0.4,-1.8,0.3,0.6,0.2,1.8,0.5,0.3,0.7,0.4,0.2,0.5,0.3,0.6,0.2,0.4,0.3,0.5,0.2,0.4,-0.3,0.3,0.5,0.3,0.4],
[-0.8,-1.3,-0.6,-1.1,-0.4,-0.9,-0.5,-0.7,-1.0,-0.3,-0.8,-0.5,-0.2,-0.7,-0.4,-0.6,-0.3,-0.6,-0.1,-0.5,-0.3,0.0,-0.4,-0.2,-0.5,0.1,-0.3,-0.1,-0.4,0.2,-0.2,0.0,-0.3,0.1,-0.1,0.3,0.2,0.6,0.0,0.4,0.8,0.1,0.5,0.3,0.7,0.0,0.4,0.6,0.2,0.5,0.3,0.7,0.1,0.4,0.6,0.3],
[-0.2,0.5,-2.0,0.3,-0.6,0.6,-0.9,0.2,-0.3,0.7,-0.5,0.1,-1.1,0.4,-0.2,0.8,-0.6,0.3,0.0,-0.8,0.5,-0.3,0.2,-1.4,0.4,-0.1,0.6,-0.4,0.2,0.0,0.5,-0.2,0.3,-0.5,0.4,0.1,0.7,0.2,0.9,0.0,0.5,0.3,0.8,0.1,0.6,0.4,0.9,0.2,0.6,0.3,0.7,0.1,0.5,0.8,0.3,0.5],
[-0.1,-0.8,-1.6,-0.4,-0.9,-0.2,-0.6,-0.3,-0.7,-0.1,-0.5,-0.3,-1.2,-0.2,-0.6,0.0,-0.4,-0.2,-0.7,-0.1,-0.4,0.1,-0.5,-0.2,-0.3,0.0,-0.6,-0.2,0.1,-0.4,-0.1,0.2,-0.3,0.0,-0.2,0.1,0.4,0.0,0.7,0.2,0.5,0.9,0.1,0.6,0.3,0.8,0.2,0.5,0.7,0.3,0.6,0.1,0.4,0.8,0.2,0.5],
[-1.05,-1.2,-0.9,-0.7,-2.4,-0.8,-0.6,-2.05,-0.15,-2.25,-0.6,-0.8,-0.3,-0.9,-0.5,-0.2,-0.7,-0.4,-1.9,-0.3,-0.6,-0.2,-0.5,-0.1,-0.4,0.0,-0.3,-0.6,-0.1,-0.4,0.1,0.2,0.4,0.0,0.3,0.1,0.5,0.2,0.0,0.3,0.2,0.6,0.1,0.4,0.8,0.3,0.6,1.1,0.5,1.3,0.7,1.6,0.9,2.6,1.0,1.0],
[0.9,-0.5,-2.1,-0.3,-1.4,0.2,-0.8,-1.9,0.4,-0.6,0.0,-1.2,0.3,-0.3,0.6,-0.9,0.1,-0.5,0.5,-0.2,-1.6,0.3,-0.4,0.2,0.6,1.0,0.3,0.8,0.1,1.7,0.5,0.2,0.9,0.4,0.7,0.2,1.1,0.5,0.8,0.1,0.7,0.3,1.0,0.4,0.6,0.9,0.2,0.7,0.5,1.0,0.3,-1.7,0.6,0.2,0.8,2.0],
null,
[-1.3,-2.1,-0.6,-0.1,-0.5,0.2,-0.9,-0.3,-0.7,0.3,-0.5,-0.1,-0.8,0.2,-0.4,0.1,-0.6,0.0,-0.3,0.3,-0.2,0.4,-0.1,0.2,0.8,0.6,0.9,0.5,1.0,0.7,0.4,0.8,0.6,0.9,1.2,0.7,0.5,0.9,0.6,1.0,0.8,0.4,0.9,0.7,0.5,0.9,0.3,0.8,0.6,0.2,-0.5,0.3,1.0,1.0,1.0,1.0],
[-0.8,-1.2,-1.9,-0.4,0.2,-0.2,-0.5,0.0,-0.3,-0.6,0.1,-0.4,-0.2,0.0,-0.5,-0.1,-0.3,0.4,0.1,0.6,0.2,0.5,0.3,0.8,0.4,2.0,0.5,0.3,0.7,0.4,0.9,0.5,0.6,0.2,0.8,1.6,0.5,0.9,0.3,0.7,1.1,0.5,0.8,0.3,0.9,0.6,1.2,0.7,0.5,1.0,0.6,0.9,0.4,1.1,0.7,0.8],
[-1.0,0.8,-0.6,-0.2,-1.5,-0.5,-2.5,-0.3,-0.8,-2.3,-0.4,0.1,-0.9,-0.2,-0.6,-1.4,-0.3,-0.7,0.0,-0.5,-0.2,-1.1,0.5,0.9,0.4,0.7,0.2,0.8,0.3,-0.2,0.9,0.5,0.1,0.6,0.8,0.3,0.7,0.2,0.5,0.9,0.4,2.2,0.6,0.3,0.8,1.1,0.4,0.7,0.5,0.2,0.8,0.4,1.2,0.6,0.5,0.9],
[0.0,-0.75,-0.5,-1.0,-0.6,-1.2,-0.4,-1.8,-0.7,-1.1,-0.5,-0.9,-0.3,-1.0,-0.6,-0.8,-0.4,-0.9,-0.6,-0.3,-1.0,-0.5,-0.7,-0.2,-0.6,-0.4,-0.8,-0.3,-0.5,-0.9,-0.4,-0.2,0.3,-0.2,0.5,0.0,0.4,-0.3,0.2,0.6,-0.1,0.4,0.1,0.7,-0.3,0.3,0.5,-0.2,0.4,0.0,0.6,0.2,-0.4,0.5,0.3,1.9],
[-2.2,-0.2,0.3,-0.5,0.2,-0.7,0.1,-0.3,0.4,-0.4,0.0,-0.6,0.3,-0.2,-0.5,0.2,-0.3,0.1,-0.6,0.3,-0.1,-0.4,0.2,-0.2,0.5,-0.3,0.1,0.4,0.7,0.3,0.8,0.5,0.2,0.7,0.4,0.9,0.3,0.6,0.8,0.4,0.7,0.3,0.9,0.5,0.2,0.8,0.6,0.4,2.85,0.5,0.3,0.8,1.4,1.6,1.7,1.5],
[-0.2,-0.8,-0.6,-1.1,-0.5,-1.7,-0.9,-0.4,-1.0,-0.6,-1.3,-0.5,-0.8,-1.7,-0.3,-1.2,-0.7,-0.4,-1.0,-0.2,-0.6,0.1,-0.5,0.3,-0.2,0.4,0.0,0.5,0.9,0.5,1.1,0.7,0.4,1.0,0.6,1.7,0.8,0.5,1.2,0.7,0.9,0.4,1.1,0.6,0.3,1.0,0.7,1.3,0.5,0.9,0.6,1.1,0.2,0.8,0.4,0.85],
[-0.8,-0.4,0.2,-0.6,-0.1,-0.9,-2.25,-0.3,0.1,-0.5,-0.2,-0.7,0.3,-0.4,-0.1,-0.6,0.0,-0.3,-0.5,0.2,-0.2,-0.4,0.1,-0.3,-0.1,-0.5,0.0,-0.2,0.3,-0.1,0.2,-0.3,0.4,0.7,0.2,0.5,0.9,0.3,0.6,0.4,0.8,0.3,0.7,0.5,2.8,0.6,0.4,0.9,0.5,0.3,0.8,0.6,1.0,0.4,0.7,0.5],
[-0.9,-0.3,-0.7,-1.2,-0.4,-0.8,-0.2,-0.6,-1.0,-0.5,-0.3,-0.8,-0.4,-0.6,-0.2,-0.7,-0.4,-0.1,-0.6,-0.3,-0.5,-0.2,-0.4,0.0,-0.2,0.3,-0.1,0.4,0.0,0.5,0.2,-0.3,0.4,0.1,0.6,0.0,0.3,-0.2,0.5,0.2,0.0,0.4,0.2,0.6,-0.1,0.3,0.5,0.1,0.4,-0.2,0.3,0.6,0.1,0.5,0.2,0.4],
[0.2,-0.1,0.4,-0.6,-0.2,-0.6,-0.2,0.1,-0.4,0.0,0.3,0.6,0.2,0.8,0.5,0.3,0.6,0.4,0.7,0.3,0.5,0.2,0.6,0.5],
[-0.3,0.4,-1.2,0.2,-0.6,0.5,-1.7,0.1,-0.4,0.3,-0.9,0.0,0.6,-0.5,-1.4,0.2,-0.3,0.4,-0.8,0.1,-0.2,0.5,-1.0,0.3,0.0,0.6,0.3,0.8,0.4,0.7,0.2,0.9,0.5,0.3,0.7,0.4,0.8,0.2,0.6,0.5,0.9,0.4,0.6,0.3,0.8,0.5,0.7,0.4,0.6,0.8,0.3,0.7,0.5,0.9,0.4,0.6],
[-0.8,-1.5,-1.2,-0.9,-0.4,-0.6,-0.2,-0.5,-0.1,-0.3,0.1,-0.2,0.2,-0.1,0.3,0.0,-0.3,0.2,-0.1,0.1,-0.4,-1.2,-2.9,-0.8,0.3,0.6,0.2,0.5,0.7,0.3,0.6,0.4,0.8,0.5,0.3,0.6,0.4,0.7,0.2,0.5,0.6,0.3,0.7,0.4,0.6,0.3,0.5,0.4],
[-0.3,-1.0,-0.5,-1.4,-0.7,-0.2,-1.1,-0.6,-0.9,-0.4,-1.3,-0.6,-0.2,-1.0,-0.5,-0.8,-0.3,-0.7,-0.2,0.1,0.4,0.8,0.3,0.6,0.9,0.4,0.7,0.2,0.6,1.0,0.5,0.3,0.8,0.4,0.6,0.2,0.7,0.5,0.9,0.4,0.6,0.3,0.8,0.5,0.2,0.7,0.4,0.6]
];

const greenBand = [0.35,0.4,0.3,0.4,0.3, 0.35,0.35,0.4,0.35,0.35, 0.45,0.35,0.3,0,0.35, 0.35,0.45,0.4,0.45,0.45, 0.35,0.35,0.35,0.4,0.3, 0.4,0.3,0.35,0.45,0.35, 0.4,0.55,0.4,0.45,0.45];
const redBand = [0.3,0.3,0.25,0.3,0.3, 0.4,0.4,0.3,0.4,0.35, 0.35,0.3,0.4,0.45,0.45, 0.35,0.45,0.3,0.35,0.3, 0.35,0.35,0,0.45,0.35, 0.4,0.4,0.3,0.45,0.35, 0.35,0.5,0.35,0.5,0.4];
const tickDensity = ["solid","sparse","solid","solid","solid","fine","fine","solid","fine","fine",
"solid","solid","fine","sparse","sparse","fine","sparse","solid","solid","solid",
"fine","solid","solid","sparse","fine","fine","fine","fine","solid","solid",
"solid","sparse","fine","sparse","sparse"];
const yBreaks = [-10, -6, -2, 2, 6, 10];

const tickWidth = {solid: 4, fine: 1.9, sparse: 1.1};
const fmt = d => d < 0 ? "\u2212" + Math.abs(d) : String(d);
const grid = document.getElementById("grid");

genes.forEach((gene, i) => {
  const col = i % 5, row = Math.floor(i / 5);
  const K = blackVals[i].map((v, j) => ({x: j, y: v}));
  const band = (arr, w) => (arr || []).map((v, j) => ({x: j, y: v, lo: v - w, hi: v + w}));
  const G = band(greenVals[i], greenBand[i]);
  const R = band(redVals[i], redBand[i]);
  const n = K.length;
  const vals = K.map(d => d.y).concat(G.flatMap(d => [d.lo, d.hi]), R.flatMap(d => [d.lo, d.hi]));
  const [lo, hi] = d3.extent(vals);
  const pad = (hi - lo) * 0.05;
  const y0 = lo - pad, y1 = hi + pad;
  const xs = d3.range(n);
  const chart = Plot.plot({
    width: 256, height: 146,
    marginLeft: 37, marginRight: 8, marginTop: 15, marginBottom: 9,
    style: {fontFamily: "'Liberation Sans', Arial, sans-serif", fontSize: "16px", background: "transparent"},
    x: {domain: [-0.6, n - 0.4]},
    y: {domain: [y0, y1]},
    marks: [
      Plot.areaY(G, {x: "x", y1: "lo", y2: "hi", fill: "#4daf4a", fillOpacity: 0.5}),
      Plot.areaY(R, {x: "x", y1: "lo", y2: "hi", fill: "#d62728", fillOpacity: 0.5}),
      Plot.ruleY([0], {stroke: "black", strokeWidth: 1.2}),
      Plot.lineY(G, {x: "x", y: "y", stroke: "#006400", strokeWidth: 1.5}),
      Plot.lineY(R, {x: "x", y: "y", stroke: "#990000", strokeWidth: 1.5}),
      Plot.lineY(K, {x: "x", y: "y", stroke: "black", strokeWidth: 2.7}),
      Plot.ruleX([-0.6], {stroke: "black", strokeWidth: 1.2}),
      Plot.ruleY([y0], {stroke: "black", strokeWidth: 1.2}),
      Plot.axisX(xs, {tickSize: 5, tickFormat: () => "", stroke: "#333333", strokeWidth: tickWidth[tickDensity[i]], label: null}),
      Plot.axisY(yBreaks.filter(t => t >= y0 && t <= y1), {tickSize: 4, tickPadding: 4, tickFormat: fmt, fontSize: 16, fill: "#4d4d4d", stroke: "#333333", label: null}),
      Plot.text([gene], {frameAnchor: "top", dy: 4, fontSize: 21, fill: "black"})
    ]
  });
  const cell = document.createElement("div");
  cell.className = "cell";
  cell.style.left = (col * 256) + "px";
  cell.style.top = Math.round(row * 146.5) + "px";
  cell.appendChild(chart);
  grid.appendChild(cell);
});
</script></body></html>
